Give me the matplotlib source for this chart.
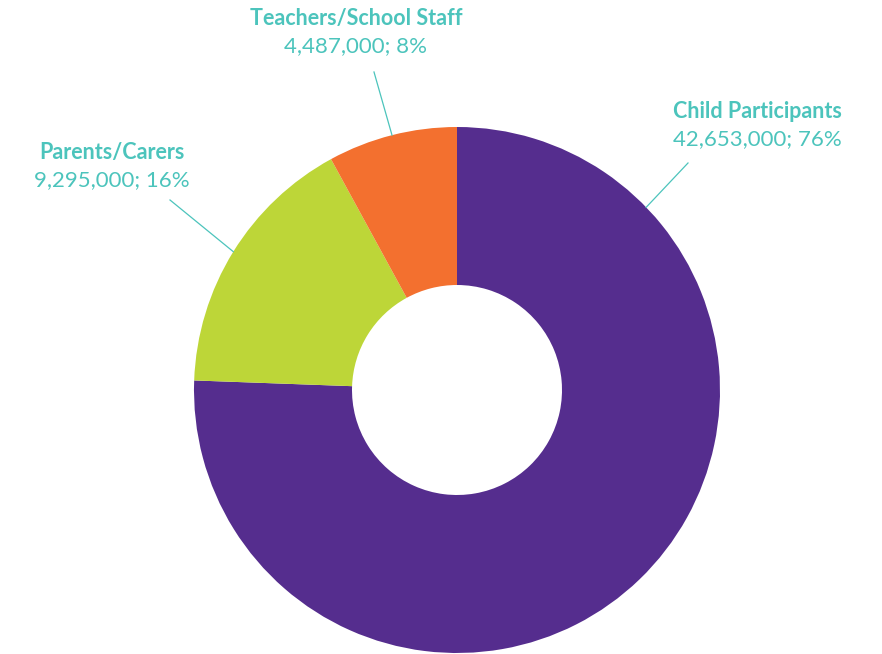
import numpy as np
import matplotlib.pyplot as plt

# data
labels = ['Child Participants', 'Parents/Carers', 'Teachers/School Staff']
values = [42653000, 9295000, 4487000]
colors = ['#552d8e', '#bdd638', '#f3702f']
teal = '#4cc4bc'

W, H = 882, 654
cx, cy, r = 457, 390, 263

fig = plt.figure(figsize=(W / 100, H / 100), dpi=100)
ax = fig.add_axes([(cx - r) / W, (H - cy - r) / H, 2 * r / W, 2 * r / H])
ax.pie(values, colors=colors, startangle=90, counterclock=False, radius=1,
       wedgeprops=dict(width=1 - 105 / 263, edgecolor='none'))
ax.set_xlim(-1, 1)
ax.set_ylim(-1, 1)
ax.set_aspect('equal')
ax.axis('off')

total = sum(values)
pct = [round(v / total * 100) for v in values]

# label layout: text centre in pixels, leader line (angle on the rim, outer end in px)
layout = {
    'Child Participants': dict(tx=757, ty=111, ang=44, lx=688, ly=163),
    'Parents/Carers': dict(tx=112, ty=152, ang=None, lx=170, ly=200),
    'Teachers/School Staff': dict(tx=356, ty=18, ang=None, lx=374, ly=72),
}

def px2data(px, py):
    return (px - cx) / r, (cy - py) / r

start = 90.0
for lab, v, p in zip(labels, values, pct):
    span = v / total * 360
    mid = start - span / 2
    start -= span
    L = layout[lab]
    a = L['ang'] if L['ang'] is not None else mid
    x0, y0 = np.cos(np.radians(a)), np.sin(np.radians(a))
    x1, y1 = px2data(L['lx'], L['ly'])
    ax.plot([x0, x1], [y0, y1], color=teal, lw=0.9, clip_on=False)
    tx, ty = px2data(L['tx'], L['ty'])
    ax.text(tx, ty, lab, ha='center', va='center', color=teal, fontsize=15.5,
            fontfamily='Lato', fontweight='bold', clip_on=False)
    tx2, ty2 = px2data(L['tx'], L['ty'] + 28)
    ax.text(tx2, ty2, f'{v:,}; {p}%', ha='center', va='center', color=teal,
            fontsize=16, fontfamily='Lato', fontweight='normal', clip_on=False)

fig.savefig('out.png', dpi=100)
